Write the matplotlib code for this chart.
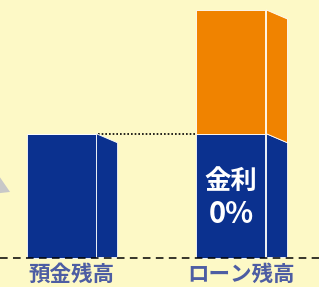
import matplotlib
matplotlib.use('Agg')
import matplotlib.pyplot as plt
from matplotlib.patches import Polygon

plt.rcParams['font.family'] = ['Noto Sans CJK JP', 'DejaVu Sans']

categories = ['預金残高', 'ローン残高']
deposit = [100, 100]      # blue part (deposit / 0% loan part)
loan_extra = [0, 100]     # orange part on top of loan
inner_label = ['金利', '0%']

blue = '#0b318f'
orange = '#f08300'
bg = '#fdf9c6'
label_col = '#4d5da3'

fig = plt.figure(figsize=(3.19, 2.87), dpi=100)
fig.patch.set_facecolor(bg)
ax = fig.add_axes([0, 0, 1, 1])
ax.set_facecolor(bg)
ax.set_xlim(-0.359, 1.518)
ax.set_ylim(-23.8, 208.1)
ax.axis('off')

x = [0, 1]
w = 0.406
side_w = 0.124
gap = 0.006
slant = 7.3

ax.bar(x, deposit, width=w, color=blue, edgecolor='white', linewidth=0.6, zorder=3)
ax.bar(x, loan_extra, bottom=deposit, width=w, color=orange, edgecolor='white',
       linewidth=0.6, zorder=3)

# side faces
for xi, b, e in zip(x, deposit, loan_extra):
    x0 = xi + w / 2 + gap
    x1 = x0 + side_w
    ax.add_patch(Polygon([(x0, 0), (x1, 0), (x1, b - slant), (x0, b)],
                         closed=True, facecolor=blue, edgecolor='white',
                         linewidth=0.6, zorder=3))
    if e > 0:
        ax.add_patch(Polygon([(x0, b), (x1, b - slant), (x1, b + e - slant), (x0, b + e)],
                             closed=True, facecolor=orange, edgecolor='white',
                             linewidth=0.6, zorder=3))

# baseline and reference line
ax.axhline(0, color='black', lw=1.1, ls=(0, (5, 3.5)), zorder=4)
ax.plot([x[0] + w / 2 + gap + 0.01, x[1] - w / 2 - 0.01], [deposit[0], deposit[0]],
        color='black', lw=1.2, ls=(0, (1, 1.2)), zorder=2)

# gray arrow tip at left edge
ax.add_patch(Polygon([(-0.365, 66), (-0.30, 53), (-0.365, 52)], closed=True,
                     facecolor='#c8c8c8', edgecolor='none', zorder=2))

ax.text(x[1], 61.8, inner_label[0], color='white', fontsize=19, fontweight='bold',
        ha='center', va='center', zorder=5)
ax.text(x[1], 35.2, inner_label[1], color='white', fontsize=21, fontweight='bold',
        ha='center', va='center', zorder=5)

for xi, c in zip(x, categories):
    ax.text(xi + 0.06, -13.3, c, color=label_col, fontsize=15.5, fontweight='bold',
            ha='center', va='center')

fig.savefig('out.png', dpi=100, facecolor=bg)
